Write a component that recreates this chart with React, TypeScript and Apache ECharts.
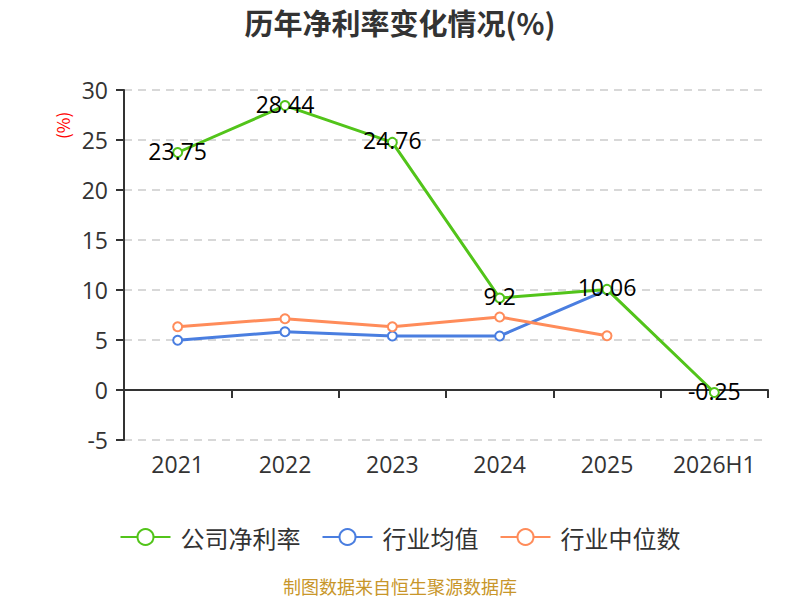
import { useEffect, useRef } from "react"
import * as echarts from "echarts"

const categories = ["2021", "2022", "2023", "2024", "2025", "2026H1"]
const companyRate = [23.75, 28.44, 24.76, 9.2, 10.06, -0.25]
const industryAvg = [4.97, 5.83, 5.4, 5.4, 10.02, null]
const industryMedian = [6.33, 7.13, 6.33, 7.3, 5.43, null]

const FONT = "'Noto Sans CJK SC', 'Noto Sans', sans-serif"
const NUM_FONT = "'Open Sans', 'Noto Sans CJK SC', sans-serif"

export default function App() {
  const chartRef = useRef<HTMLDivElement>(null)

  useEffect(() => {
    if (!chartRef.current) return
    document.body.style.margin = "0"
    const chart = echarts.init(chartRef.current, null, { renderer: "svg" })

    chart.setOption({
      animation: false,
      textStyle: { fontFamily: FONT },
      title: {
        text: "历年净利率变化情况(%)",
        left: "center",
        top: 2,
        textStyle: { fontSize: 29, fontWeight: "bold", color: "#333", fontFamily: FONT },
      },
      grid: { left: 124, right: 32, top: 90, bottom: 160 },
      legend: {
        bottom: 46,
        itemWidth: 50,
        itemHeight: 20,
        itemGap: 21,
        textStyle: { fontSize: 24, color: "#333", fontFamily: FONT, padding: [0, 0, 0, 5] },
        data: ["公司净利率", "行业均值", "行业中位数"],
      },
      graphic: [
        {
          type: "text",
          x: 54,
          y: 139,
          rotation: Math.PI / 2,
          style: { text: "(%)", fill: "#f00", fontSize: 17, fontFamily: FONT },
        },
        {
          type: "text",
          left: "center",
          top: 577,
          style: { text: "制图数据来自恒生聚源数据库", fill: "#c8962a", fontSize: 18, fontFamily: FONT },
        },
      ],
      xAxis: [
        {
          type: "category",
          data: categories,
          position: "bottom",
          axisLine: { show: false, onZero: false },
          axisTick: { show: false },
          axisLabel: { interval: 0, fontSize: 23, color: "#333", margin: 12, fontFamily: NUM_FONT },
        },
        {
          type: "category",
          data: categories,
          position: "bottom",
          axisLine: { show: true, onZero: true, lineStyle: { color: "#333", width: 2 } },
          axisTick: { show: true, interval: 0, length: 8, lineStyle: { color: "#333", width: 2 } },
          axisLabel: { show: false },
        },
      ],
      yAxis: {
        type: "value",
        min: -5,
        max: 30,
        interval: 5,
        axisLine: { show: true, lineStyle: { color: "#333", width: 2 } },
        axisTick: { show: true, length: 8, lineStyle: { color: "#333", width: 2 } },
        axisLabel: { fontSize: 23, color: "#333", margin: 16, fontFamily: NUM_FONT },
        splitLine: { lineStyle: { type: [8, 6], color: "#ccc", width: 1.5 } },
      },
      series: [
        {
          name: "公司净利率",
          type: "line",
          data: companyRate,
          xAxisIndex: 0,
          symbol: "emptyCircle",
          symbolSize: 9,
          itemStyle: { color: "#52c41a" },
          lineStyle: { width: 3, color: "#52c41a" },
          label: {
            show: true,
            position: "inside",
            offset: [0, -2],
            fontSize: 23,
            color: "#000",
            fontFamily: NUM_FONT,
          },
          z: 3,
        },
        {
          name: "行业均值",
          type: "line",
          data: industryAvg,
          xAxisIndex: 0,
          symbol: "emptyCircle",
          symbolSize: 9,
          itemStyle: { color: "#4a7ee0" },
          lineStyle: { width: 3, color: "#4a7ee0" },
          z: 2,
        },
        {
          name: "行业中位数",
          type: "line",
          data: industryMedian,
          xAxisIndex: 0,
          symbol: "emptyCircle",
          symbolSize: 9,
          itemStyle: { color: "#ff8c5a" },
          lineStyle: { width: 3, color: "#ff8c5a" },
          z: 2,
        },
      ],
    })

    return () => {
      chart.dispose()
    }
  }, [])

  return <div ref={chartRef} style={{ width: "800px", height: "600px" }} />
}
